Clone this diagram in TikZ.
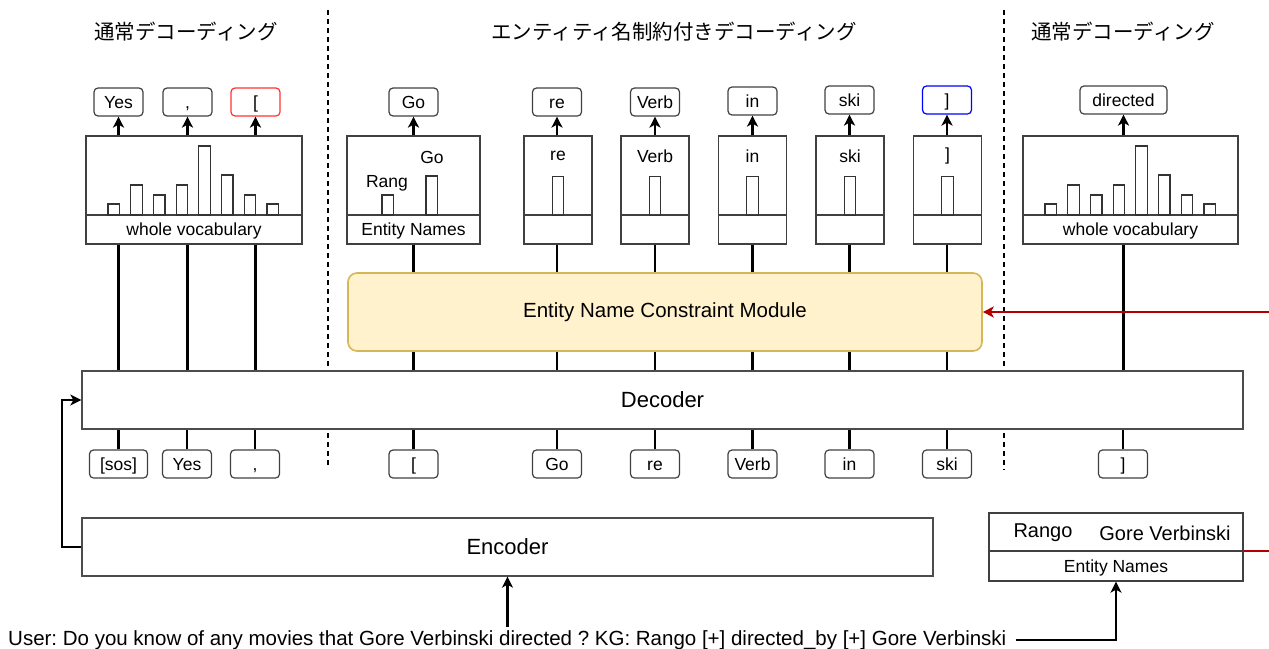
\documentclass[tikz,border=0pt]{standalone}
\usepackage{fontspec}
\setmainfont{Liberation Sans}
\newfontfamily\jpfont{Noto Sans CJK JP}
\usetikzlibrary{arrows.meta,calc}
\newcommand\myfs[1]{\fontsize{#1}{#1}\selectfont}
\definecolor{modfill}{HTML}{FFF2CC}
\definecolor{moddraw}{HTML}{D6B656}
\definecolor{redline}{HTML}{B20000}
\definecolor{redbox}{HTML}{FF3333}
\definecolor{bluebox}{HTML}{0000FF}
\begin{document}
\frenchspacing
\begin{tikzpicture}[x=1pt,y=-1pt,
 tok/.style={draw=black!75, rounded corners=4pt, minimum width=49pt, minimum height=28pt, inner sep=0pt, line width=1.2pt, font=\myfs{17.5}, text height=14pt, text depth=1.5pt},
 box/.style={draw=black!75, line width=1.3pt, inner sep=0pt, minimum height=108pt},
 divl/.style={draw=black!75, line width=1.3pt},
 lbl/.style={inner sep=0pt, font=\myfs{17.5}},
 bar/.style={draw=black!80, line width=1.2pt},
 conn/.style={line width=2.2pt},
 tip/.style={-{Stealth[length=11pt,width=11pt,inset=3pt]}},
 arr/.style={conn, tip},
 sepl/.style={line width=1.8pt, dash pattern=on 5pt off 4pt},
 title/.style={inner sep=0pt, font=\jpfont\myfs{20.5}}]
\useasboundingbox (0,0) rectangle (1269,648);

% titles
\node[title] (t1) at (186,32) {通常デコーディング};
\node[title] (t2) at (674,32) {エンティティ名制約付きデコーディング};
\node[title] (t3) at (1123,32) {通常デコーディング};

% separators
\draw[sepl] (328,10) -- (328,468);
\draw[sepl] (1004,10) -- (1004,470);

% decoder / encoder
\node[draw=black!70, fill=white, line width=1.3pt, minimum width=1161pt, minimum height=58pt, font=\myfs{22}] (dec) at (662.5,400) {Decoder};
\node[draw=black!70, fill=white, line width=1.3pt, minimum width=851pt, minimum height=58pt, font=\myfs{22}] (enc) at (507.5,547) {Encoder};

% output tokens
\node[tok] (o1) at (118.5,102) {Yes};
\node[tok] (o2) at (187.5,102) {,};
\node[tok, draw=redbox] (o3) at (255.5,102) {[};
\node[tok] (o4) at (413.5,102) {Go};
\node[tok] (o5) at (557,102) {re};
\node[tok] (o6) at (655,102) {Verb};
\node[tok] (o7) at (752.5,101) {in};
\node[tok] (o8) at (849.5,100) {ski};
\node[tok, draw=bluebox] (o9) at (947,100) {]};
\node[tok, minimum width=87pt] (o10) at (1123.5,100) {directed};

% distribution boxes
\node[box, minimum width=216pt] (d1) at (194,190) {};
\node[box, minimum width=133pt] (d2) at (413.5,190) {};
\node[box, minimum width=68pt] (d3) at (558,190) {};
\node[box, minimum width=68pt] (d4) at (655,190) {};
\node[box, minimum width=68pt] (d5) at (752.5,190) {};
\node[box, minimum width=68pt] (d6) at (850,190) {};
\node[box, minimum width=68pt] (d7) at (947.5,190) {};
\node[box, minimum width=215pt] (d8) at (1130.5,190) {};
\foreach \d in {d1,d2,d3,d4,d5,d6,d7,d8}{
  \draw[divl] (\d.west |- 0,215) -- (\d.east |- 0,215);
}
\node[lbl] (v1) at (194,231) {whole vocabulary};
\node[lbl] (v2) at (413.5,231) {Entity Names};
\node[lbl] (v8) at (1130.5,231) {whole vocabulary};

% bars whole vocabulary
\foreach \k/\t in {0/204,1/185,2/195,3/185,4/146,5/175,6/195,7/204}{
  \draw[bar] ({108+22.7*\k},215) rectangle ++(11.5,{\t-215});
  \draw[bar] ({1045+22.7*\k},215) rectangle ++(11.5,{\t-215});
}
% entity-name box
\draw[bar] (382,215) rectangle (393.5,195);
\draw[bar] (426,215) rectangle (437.5,176);
\node[lbl] (r1) at (387,183) {Rang};
\node[lbl] (g1) at (432,157) {Go};
% single bars
\foreach \d/\w in {d3/re,d4/Verb,d5/in,d6/ski,d7/]}{
  \draw[bar] ($(\d.south)+(-5.75,-29)$) rectangle ($(\d.south)+(5.75,-68)$);
  \node[lbl] at ($(\d.north)+(0,21)$) {\w};
}

% input tokens
\node[tok, minimum width=58pt] (i1) at (118.5,464) {[sos]};
\node[tok] (i2) at (187,464) {Yes};
\node[tok] (i3) at (255,464) {,};
\node[tok] (i4) at (413.5,464) {[};
\node[tok] (i5) at (557,464) {Go};
\node[tok] (i6) at (655,464) {re};
\node[tok] (i7) at (752.5,464) {Verb};
\node[tok] (i8) at (849.5,464) {in};
\node[tok] (i9) at (947,464) {ski};
\node[tok] (i10) at (1123,464) {]};

% input lines
\foreach \i in {i1,i2,i3,i4,i5,i6,i7,i8,i9,i10}{
  \draw[conn] (\i.north) -- (\i.north |- dec.south);
}

% lines from distributions to decoder
\foreach \o/\d in {o1/d1,o2/d1,o3/d1,o4/d2,o5/d3,o6/d4,o7/d5,o8/d6,o9/d7,o10/d8}{
  \draw[conn] (\o |- \d.south) -- (\o |- dec.north);
  \draw[arr] (\o |- \d.north) -- (\o.south);
}

% constraint module
\node[draw=moddraw, fill=modfill, rounded corners=9pt, line width=1.6pt, minimum width=634pt, minimum height=78pt, font=\myfs{20.5}] (mod) at (665,312) {Entity Name Constraint Module};

% entity names box
\node[draw=black!75, line width=1.3pt, minimum width=254pt, minimum height=68pt] (ent) at (1116,547) {};
\draw[divl] (ent.west |- 0,551) -- (ent.east |- 0,551);
\node[lbl, font=\myfs{20}] (en1) at (1043,533) {Rango};
\node[lbl, font=\myfs{20}] (en2) at (1165,533) {Gore Verbinski};
\node[lbl] (en3) at (1116,568) {Entity Names};

% query text
\node[inner sep=3pt, font=\myfs{20.5}, anchor=base west] (q) at (5,645) {User: Do you know of any movies that Gore Verbinski directed ? KG: Rango [+] directed\_by [+] Gore Verbinski};

\draw[arr] (enc.south |- q.north) -- (enc.south);
\draw[arr] (q.east) ++(6,0) -| (ent.south);
\draw[arr] (enc.west) -- ++(-19,0) |- (dec.west);

% red connector
\begin{scope}
\clip (0,0) rectangle (1269,648);
\draw[conn, draw=redline, tip] (ent.east |- 0,551) -- (1300,551) |- (mod.east);
\end{scope}
\end{tikzpicture}
\end{document}
